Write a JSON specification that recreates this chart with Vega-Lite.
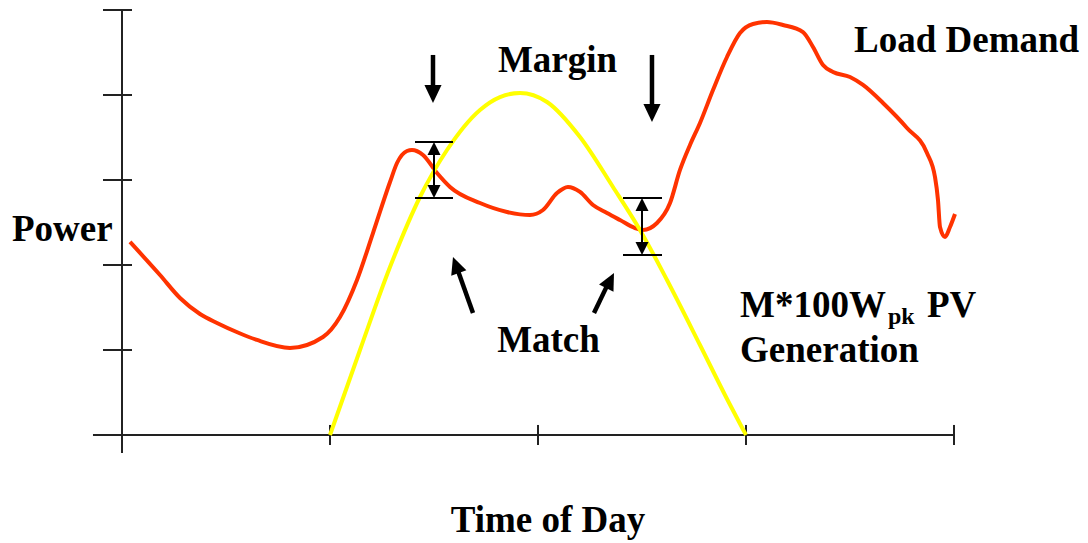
{
  "$schema": "https://vega.github.io/schema/vega-lite/v6.json",
  "width": 1088,
  "height": 543,
  "autosize": {"type": "none"},
  "padding": 0,
  "background": "white",
  "config": {"view": {"stroke": null}},
  "datasets": {
    "load": [
      {"h": 0.231, "p": 2.271}, {"h": 1.096, "p": 1.882}, {"h": 1.673, "p": 1.612}, {"h": 2.25, "p": 1.424},
      {"h": 2.74, "p": 1.318}, {"h": 3.375, "p": 1.2},
      {"h": 3.894, "p": 1.118}, {"h": 4.846, "p": 1.024}, {"h": 5.798, "p": 1.153}, {"h": 6.288, "p": 1.388},
      {"h": 6.779, "p": 1.824}, {"h": 7.24, "p": 2.376}, {"h": 7.731, "p": 2.976}, {"h": 7.933, "p": 3.2},
      {"h": 8.221, "p": 3.341}, {"h": 8.365, "p": 3.353}, {"h": 8.683, "p": 3.294}, {"h": 9.087, "p": 3.082},
      {"h": 9.462, "p": 2.918}, {"h": 10.327, "p": 2.729}, {"h": 11.106, "p": 2.624}, {"h": 11.769, "p": 2.588},
      {"h": 12.144, "p": 2.647}, {"h": 12.548, "p": 2.847}, {"h": 12.865, "p": 2.918}, {"h": 13.212, "p": 2.859},
      {"h": 13.587, "p": 2.706}, {"h": 13.99, "p": 2.612}, {"h": 14.365, "p": 2.529}, {"h": 14.798, "p": 2.435},
      {"h": 15.029, "p": 2.412}, {"h": 15.433, "p": 2.494}, {"h": 15.808, "p": 2.729}, {"h": 16.096, "p": 3.118},
      {"h": 16.385, "p": 3.412}, {"h": 16.673, "p": 3.671}, {"h": 17.048, "p": 4.059}, {"h": 17.452, "p": 4.447},
      {"h": 17.827, "p": 4.729}, {"h": 18.202, "p": 4.835}, {"h": 18.606, "p": 4.859}, {"h": 19.067, "p": 4.824},
      {"h": 19.644, "p": 4.741}, {"h": 19.933, "p": 4.565}, {"h": 20.221, "p": 4.353}, {"h": 20.51, "p": 4.271},
      {"h": 21.0, "p": 4.212}, {"h": 21.375, "p": 4.118}, {"h": 21.952, "p": 3.906}, {"h": 22.644, "p": 3.612},
      {"h": 23.221, "p": 3.318}, {"h": 23.452, "p": 3.035}, {"h": 23.538, "p": 2.765}, {"h": 23.596, "p": 2.447},
      {"h": 23.74, "p": 2.329}, {"h": 23.885, "p": 2.447}, {"h": 24.029, "p": 2.6}
    ],
    "pv": [
      {"h": 6.0, "p": 0.0}, {"h": 6.865, "p": 1.0}, {"h": 7.731, "p": 1.976}, {"h": 8.596, "p": 2.8},
      {"h": 9.375, "p": 3.353}, {"h": 10.327, "p": 3.824}, {"h": 10.904, "p": 3.976}, {"h": 11.481, "p": 4.024},
      {"h": 12.26, "p": 3.918}, {"h": 13.212, "p": 3.506}, {"h": 14.163, "p": 2.918}, {"h": 14.942, "p": 2.412},
      {"h": 15.721, "p": 1.824}, {"h": 16.673, "p": 1.059}, {"h": 17.394, "p": 0.471}, {"h": 18.0, "p": 0.0}
    ],
    "frame": [
      {"h": -0.837, "p": 0, "h2": 24.0, "p2": 0},
      {"h": 0, "p": -0.212, "h2": 0, "p2": 5.0},
      {"h": 6, "p": 0.118, "h2": 6, "p2": -0.118},
      {"h": 12, "p": 0.118, "h2": 12, "p2": -0.118},
      {"h": 18, "p": 0.118, "h2": 18, "p2": -0.118},
      {"h": 24, "p": 0.118, "h2": 24, "p2": -0.118},
      {"h": -0.548, "p": 1, "h2": 0.288, "p2": 1},
      {"h": -0.548, "p": 2, "h2": 0.288, "p2": 2},
      {"h": -0.548, "p": 3, "h2": 0.288, "p2": 3},
      {"h": -0.548, "p": 4, "h2": 0.288, "p2": 4},
      {"h": -0.548, "p": 5, "h2": 0.288, "p2": 5}
    ],
    "bars": [
      {"h": 8.452, "p": 3.447, "h2": 9.548, "p2": 3.447},
      {"h": 8.452, "p": 2.788, "h2": 9.548, "p2": 2.788},
      {"h": 9.0, "p": 3.4, "h2": 9.0, "p2": 2.83},
      {"h": 14.452, "p": 2.788, "h2": 15.577, "p2": 2.788},
      {"h": 14.452, "p": 2.118, "h2": 15.577, "p2": 2.118},
      {"h": 15.0, "p": 2.74, "h2": 15.0, "p2": 2.16}
    ],
    "shafts": [
      {"h": 8.971, "p": 4.471, "h2": 8.971, "p2": 4.06},
      {"h": 15.288, "p": 4.471, "h2": 15.288, "p2": 3.86},
      {"h": 10.125, "p": 1.435, "h2": 9.694, "p2": 1.93},
      {"h": 13.615, "p": 1.435, "h2": 13.973, "p2": 1.74}
    ],
    "bigDown": [{"h": 8.971, "p": 3.906}, {"h": 15.288, "p": 3.682}],
    "barUp": [{"h": 9.0, "p": 3.447}, {"h": 15.0, "p": 2.788}],
    "barDown": [{"h": 9.0, "p": 2.788}, {"h": 15.0, "p": 2.118}],
    "matchLeft": [{"h": 9.548, "p": 2.094}],
    "matchRight": [{"h": 14.192, "p": 1.906}],
    "labelsLeft": [
      {"h": -3.173, "p": 2.282, "t": "Power"},
      {"h": 21.115, "p": 4.506, "t": "Load Demand"},
      {"h": 17.827, "p": 1.388, "t": "M*100W"},
      {"h": 23.221, "p": 1.388, "t": "PV"},
      {"h": 17.827, "p": 0.859, "t": "Generation"}
    ],
    "labelsCenter": [
      {"h": 12.288, "p": -1.141, "t": "Time of Day"},
      {"h": 12.562, "p": 4.274, "t": "Margin"},
      {"h": 12.303, "p": 0.98, "t": "Match"}
    ],
    "labelsSub": [{"h": 22.096, "p": 1.306, "t": "pk"}]
  },
  "encoding": {
    "x": {"field": "h", "type": "quantitative", "axis": null,
          "scale": {"domain": [-3.5192, 27.8654], "nice": false, "zero": false}},
    "y": {"field": "p", "type": "quantitative", "axis": null,
          "scale": {"domain": [-1.2706, 5.1176], "nice": false, "zero": false}}
  },
  "layer": [
    {"data": {"name": "frame"}, "mark": {"type": "rule", "color": "#222222", "strokeWidth": 2},
     "encoding": {"x2": {"field": "h2"}, "y2": {"field": "p2"}}},
    {"data": {"name": "load"}, "mark": {"type": "line", "color": "#FF3300", "strokeWidth": 4, "interpolate": "monotone"},
     "encoding": {}},
    {"data": {"name": "pv"}, "mark": {"type": "line", "color": "#FFFF00", "strokeWidth": 4, "interpolate": "monotone"},
     "encoding": {}},
    {"data": {"name": "bars"}, "mark": {"type": "rule", "color": "black", "strokeWidth": 2},
     "encoding": {"x2": {"field": "h2"}, "y2": {"field": "p2"}}},
    {"data": {"name": "shafts"}, "mark": {"type": "rule", "color": "black", "strokeWidth": 4.5},
     "encoding": {"x2": {"field": "h2"}, "y2": {"field": "p2"}}},
    {"data": {"name": "bigDown"}, "mark": {"type": "point", "shape": "M-0.95,-2L0.95,-2L0,0Z", "size": 324, "filled": true, "color": "black", "opacity": 1}},
    {"data": {"name": "barUp"}, "mark": {"type": "point", "shape": "M-1,2L1,2L0,0Z", "size": 169, "filled": true, "color": "black", "opacity": 1}},
    {"data": {"name": "barDown"}, "mark": {"type": "point", "shape": "M-1,-2L1,-2L0,0Z", "size": 169, "filled": true, "color": "black", "opacity": 1}},
    {"data": {"name": "matchLeft"}, "mark": {"type": "point", "shape": "M-0.95,2L0.95,2L0,0Z", "size": 289, "angle": -20, "filled": true, "color": "black", "opacity": 1}},
    {"data": {"name": "matchRight"}, "mark": {"type": "point", "shape": "M-0.95,2L0.95,2L0,0Z", "size": 289, "angle": 27, "filled": true, "color": "black", "opacity": 1}},
    {"data": {"name": "labelsLeft"}, "mark": {"type": "text", "align": "left", "baseline": "alphabetic", "font": "Liberation Serif", "fontWeight": "bold", "fontSize": 37, "color": "black"},
     "encoding": {"text": {"field": "t"}}},
    {"data": {"name": "labelsCenter"}, "mark": {"type": "text", "align": "center", "baseline": "alphabetic", "font": "Liberation Serif", "fontWeight": "bold", "fontSize": 37, "color": "black"},
     "encoding": {"text": {"field": "t"}}},
    {"data": {"name": "labelsSub"}, "mark": {"type": "text", "align": "left", "baseline": "alphabetic", "font": "Liberation Serif", "fontWeight": "bold", "fontSize": 24, "color": "black"},
     "encoding": {"text": {"field": "t"}}}
  ]
}
